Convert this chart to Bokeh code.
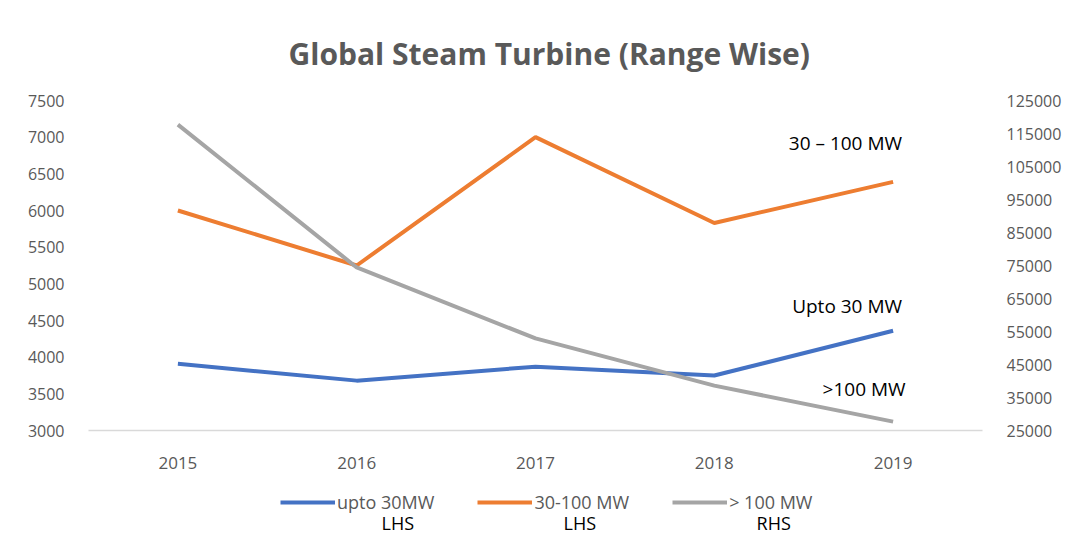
from bokeh.plotting import figure
from bokeh.models import (Range1d, LinearAxis, FixedTicker, Legend, LegendItem, Label,
                          FactorRange, NumeralTickFormatter)
from bokeh.layouts import column
from bokeh.embed import file_html
from bokeh.resources import INLINE

years = ["2015", "2016", "2017", "2018", "2019"]
upto_30 = [3910, 3680, 3870, 3750, 4360]
mw_30_100 = [6000, 5250, 7000, 5830, 6390]
over_100 = [117700, 74400, 52900, 38600, 27700]

left_ticks = [3000, 3500, 4000, 4500, 5000, 5500, 6000, 6500, 7000, 7500]
right_ticks = [25000, 35000, 45000, 55000, 65000, 75000, 85000, 95000, 105000, 115000, 125000]
series_names = ["upto 30MW", "30-100 MW", "> 100 MW"]
side_names = ["LHS", "LHS", "RHS"]

BLUE = "#4472C4"
ORANGE = "#ED7D31"
GRAY = "#A5A5A5"
TXT = "#595959"
FONT = "Open Sans"

W = 1064
BL, BR = 88, 77
p = figure(width=W, height=478, x_range=FactorRange(*years),
           y_range=Range1d(3000, 7500), output_backend="svg", toolbar_location=None,
           min_border_left=BL, min_border_right=BR, min_border_top=100, min_border_bottom=48)
p.extra_y_ranges = {"rhs": Range1d(25000, 125000)}

p.title.text = "Global Steam Turbine (Range Wise)"
p.title.align = "left"
p.title.text_font = FONT
p.title.text_font_size = "30px"
p.title.text_font_style = "bold"
p.title.text_color = TXT
p.title.standoff = 54
p.title.offset = 200

p.outline_line_color = None
p.xgrid.grid_line_color = None
p.ygrid.grid_line_color = None

r1 = p.line(years, upto_30, line_color=BLUE, line_width=4)
r2 = p.line(years, mw_30_100, line_color=ORANGE, line_width=4)
r3 = p.line(years, over_100, line_color=GRAY, line_width=4, y_range_name="rhs")

xa = p.xaxis[0]
xa.axis_line_color = "#D9D9D9"
xa.axis_line_width = 1.5
xa.major_tick_line_color = None
xa.minor_tick_line_color = None
xa.major_label_text_font = FONT
xa.major_label_text_font_size = "17px"
xa.major_label_text_color = TXT
xa.major_label_standoff = 20

ly = p.yaxis[0]
ly.ticker = FixedTicker(ticks=left_ticks)
ly.axis_line_color = None
ly.major_tick_line_color = None
ly.minor_tick_line_color = None
ly.major_label_text_font = FONT
ly.major_label_text_font_size = "16px"
ly.major_label_text_color = TXT
ly.major_label_standoff = 18

ry = LinearAxis(y_range_name="rhs", ticker=FixedTicker(ticks=right_ticks),
                formatter=NumeralTickFormatter(format="0"))
ry.axis_line_color = None
ry.major_tick_line_color = None
ry.minor_tick_line_color = None
ry.major_label_text_font = FONT
ry.major_label_text_font_size = "16px"
ry.major_label_text_color = TXT
ry.major_label_standoff = 18
p.add_layout(ry, "right")

def note(fig, x, y, text, align="right", size="19px"):
    fig.add_layout(Label(x=x, y=y, text=text, text_align=align, text_baseline="middle",
                         text_font=FONT, text_font_size=size, text_color="black"))

note(p, 4.55, 6923, "30 \u2013 100 MW")
note(p, 4.55, 4703, "Upto 30 MW")
note(p, 4.57, 3572, ">100 MW")

# legend strip below the chart (its frame is aligned with the chart frame)
H2 = 58
q = figure(width=W, height=H2, x_range=Range1d(BL, W - BR), y_range=Range1d(0, H2),
           output_backend="svg", toolbar_location=None,
           x_axis_location=None, y_axis_location=None,
           min_border_left=BL, min_border_right=BR,
           min_border_top=0, min_border_bottom=0)
q.outline_line_color = None
q.xgrid.grid_line_color = None
q.ygrid.grid_line_color = None
nan = float("nan")
k1 = q.line([nan], [nan], line_color=BLUE, line_width=4)
k2 = q.line([nan], [nan], line_color=ORANGE, line_width=4)
k3 = q.line([nan], [nan], line_color=GRAY, line_width=4)

legend = Legend(items=[LegendItem(label=n, renderers=[k]) for n, k in zip(series_names, [k1, k2, k3])],
                orientation="horizontal", location=(280 - BL, 22),
                glyph_width=55, glyph_height=18, label_standoff=2, spacing=43,
                padding=0, margin=0, border_line_color=None, background_fill_alpha=0,
                label_text_font=FONT, label_text_font_size="18px",
                label_text_color=TXT, label_height=18)
q.add_layout(legend, "center")

for cx, t in zip([399, 582, 777], side_names):
    note(q, cx, 14, t, align="center", size="18px")

open("out.html", "w").write(file_html(column(p, q, spacing=0), INLINE))
